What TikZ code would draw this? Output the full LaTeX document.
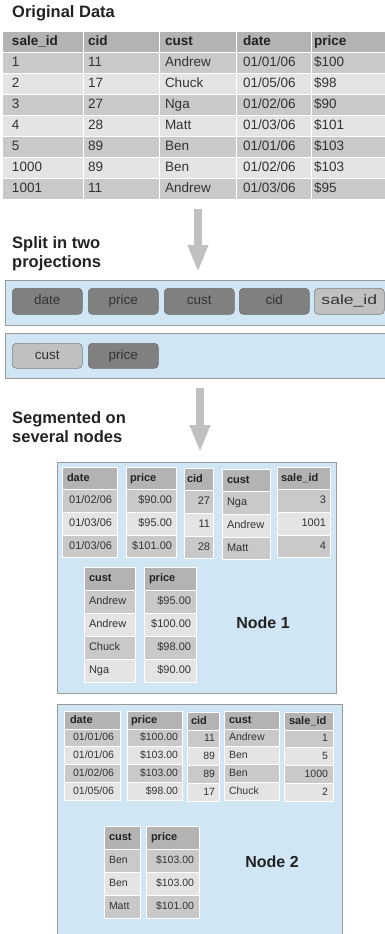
\documentclass[tikz,border=0pt]{standalone}
\usepackage{fontspec}
\setmainfont{Liberation Sans}
\usepackage{graphicx}
\usetikzlibrary{arrows.meta}

\definecolor{headgray}{HTML}{B3B3B3}
\definecolor{row1}{HTML}{C9C9C9}
\definecolor{row0}{HTML}{E4E4E4}
\definecolor{bandblue}{HTML}{D0E6F4}
\definecolor{bandline}{HTML}{999999}
\definecolor{pilldark}{HTML}{808080}
\definecolor{pilllight}{HTML}{C0C0C0}
\definecolor{arrowgray}{HTML}{C0C0C0}
\definecolor{textdark}{HTML}{222222}
\definecolor{textgray}{HTML}{333333}

\begin{document}
\begin{tikzpicture}[x=1pt, y=-1pt]

        % Styles
        \tikzstyle{title}=[anchor=north west, align=left, inner sep=0pt, text=textdark, font=\bfseries\fontsize{16.5}{19}\selectfont]
        \tikzstyle{cell}=[anchor=north west, draw=white, line width=1pt, outer sep=0pt, inner ysep=0pt, text=textgray, align=left]
        \tikzstyle{big cell}=[cell, minimum height=20.9pt, text height=9.7pt, text depth=2.8pt, font=\fontsize{13.5}{16}\selectfont]
        \tikzstyle{big head}=[big cell, fill=headgray, text=textdark, font=\bfseries\fontsize{13.5}{16}\selectfont]
        \tikzstyle{small cell}=[cell, text height=8pt, text depth=2.3pt, font=\fontsize{11}{13}\selectfont]
        \tikzstyle{small head}=[small cell, fill=headgray, text=textdark, font=\bfseries\fontsize{11}{13}\selectfont]
        \tikzstyle{band}=[fill=bandblue, draw=bandline, line width=0.8pt]
        \tikzstyle{pill}=[anchor=north west, rounded corners=4pt, minimum width=70pt, minimum height=26pt, inner sep=0pt, line width=0.6pt, text=textgray, text height=9.7pt, text depth=2.8pt, font=\fontsize{13.5}{16}\selectfont]
        \tikzstyle{dark pill}=[pill, fill=pilldark, draw=pilldark!85!black]
        \tikzstyle{light pill}=[pill, fill=pilllight, draw=gray]
        \tikzstyle{fat arrow}=[draw=arrowgray, line width=8pt, -{Triangle[width=19pt,length=27pt]}]
        \tikzstyle{node label}=[text=textdark, font=\bfseries\fontsize{16}{19}\selectfont]

        \useasboundingbox (0,0) rectangle (385,934);

        %Original data
        \node[title, anchor=base west] (orig title) at (12,18) {Original Data};
        \node[big head, inner xsep=10pt, text width=61pt] (o-sale) at (2,32) {sale\_id};
        \foreach \v [count=\r] in {1,2,3,4,5,1000,1001}
            {\pgfmathtruncatemacro\p{mod(\r,2)}
             \node[big cell, fill=row\p, inner xsep=10pt, text width=61pt] (o-sale-\r) at (2,{32+\r*20.9}) {\v};}
        \node[big head, inner xsep=5pt, text width=66pt] (o-cid) at (83,32) {cid};
        \foreach \v [count=\r] in {11,17,27,28,89,89,11}
            {\pgfmathtruncatemacro\p{mod(\r,2)}
             \node[big cell, fill=row\p, inner xsep=5pt, text width=66pt] (o-cid-\r) at (83,{32+\r*20.9}) {\v};}
        \node[big head, inner xsep=6pt, text width=65pt] (o-cust) at (159,32) {cust};
        \foreach \v [count=\r] in {Andrew,Chuck,Nga,Matt,Ben,Ben,Andrew}
            {\pgfmathtruncatemacro\p{mod(\r,2)}
             \node[big cell, fill=row\p, inner xsep=6pt, text width=65pt] (o-cust-\r) at (159,{32+\r*20.9}) {\v};}
        \node[big head, inner xsep=7pt, text width=62pt] (o-date) at (236,32) {date};
        \foreach \v [count=\r] in {01/01/06,01/05/06,01/02/06,01/03/06,01/01/06,01/02/06,01/03/06}
            {\pgfmathtruncatemacro\p{mod(\r,2)}
             \node[big cell, fill=row\p, inner xsep=7pt, text width=62pt] (o-date-\r) at (236,{32+\r*20.9}) {\v};}
        \node[big head, inner xsep=3pt, text width=68pt] (o-price) at (311,32) {price};
        \foreach \v [count=\r] in {\$100,\$98,\$90,\$101,\$103,\$103,\$95}
            {\pgfmathtruncatemacro\p{mod(\r,2)}
             \node[big cell, fill=row\p, inner xsep=3pt, text width=68pt] (o-price-\r) at (311,{32+\r*20.9}) {\v};}

        %Projections
        \coordinate (split from) at (198,209);
        \coordinate (split to) at (198,272);
        \draw[fat arrow] (split from) -- (split to);
        \node[title] (split title) at (12,236) {Split in two\\projections};
        \draw[band] (5,280) rectangle (388,325);
        \foreach \x/\name [count=\i] in {12/date,88/price,164/cust,239/cid}
            \node[dark pill] (pill-\i) at (\x,288) {\name};
        \node[light pill] (pill-5) at (314,288) {\scalebox{1.3}[1]{sale\_id}};
        \draw[band] (5,333) rectangle (388,378);
        \node[light pill, minimum height=25pt] (pill-6) at (12,343) {cust};
        \node[dark pill, minimum height=25pt] (pill-7) at (88,343) {price};

        %Segments
        \coordinate (seg from) at (200,388);
        \coordinate (seg to) at (200,452);
        \draw[fat arrow] (seg from) -- (seg to);
        \node[title] (seg title) at (12,411) {Segmented on\\several nodes};

        % Node 1
        \draw[band] (57,462) rectangle (336,693);
        \node[node label] (node one) at (263,623) {Node 1};
        \begin{scope}[every node/.append style={minimum height=22.7pt}]
            \node[small head, inner xsep=5pt, text width=45pt] (a-date) at (62,467) {date};
            \foreach \v [count=\r] in {01/02/06,01/03/06,01/03/06}
                {\pgfmathtruncatemacro\p{mod(\r,2)}
                 \node[small cell, fill=row\p, align=right, inner xsep=5pt, text width=45pt] (a-date-\r) at (62,{467+\r*22.7}) {\v};}
            \node[small head, inner xsep=4pt, text width=42pt] (a-price) at (126,467) {price};
            \foreach \v [count=\r] in {\$90.00,\$95.00,\$101.00}
                {\pgfmathtruncatemacro\p{mod(\r,2)}
                 \node[small cell, fill=row\p, align=right, inner xsep=4pt, text width=42pt] (a-price-\r) at (126,{467+\r*22.7}) {\v};}
            \node[small head, inner xsep=3pt, text width=23pt] (a-cid) at (184,468) {cid};
            \foreach \v [count=\r] in {27,11,28}
                {\pgfmathtruncatemacro\p{mod(\r,2)}
                 \node[small cell, fill=row\p, align=right, inner xsep=3pt, text width=23pt] (a-cid-\r) at (184,{468+\r*22.7}) {\v};}
            \node[small head, inner xsep=5pt, text width=38pt] (a-cust) at (222,469) {cust};
            \foreach \v [count=\r] in {Nga,Andrew,Matt}
                {\pgfmathtruncatemacro\p{mod(\r,2)}
                 \node[small cell, fill=row\p, inner xsep=5pt, text width=38pt] (a-cust-\r) at (222,{469+\r*22.7}) {\v};}
            \node[small head, inner xsep=4pt, text width=45pt] (a-sale) at (277,467) {sale\_id};
            \foreach \v [count=\r] in {3,1001,4}
                {\pgfmathtruncatemacro\p{mod(\r,2)}
                 \node[small cell, fill=row\p, align=right, inner xsep=4pt, text width=45pt] (a-sale-\r) at (277,{467+\r*22.7}) {\v};}
        \end{scope}
        \begin{scope}[every node/.append style={minimum height=23pt}]
            \node[small head, inner xsep=5pt, text width=41pt] (b-cust) at (84,567.5) {cust};
            \foreach \v [count=\r] in {Andrew,Andrew,Chuck,Nga}
                {\pgfmathtruncatemacro\p{mod(\r,2)}
                 \node[small cell, fill=row\p, inner xsep=5pt, text width=41pt] (b-cust-\r) at (84,{567.5+\r*23}) {\v};}
            \node[small head, inner xsep=5pt, text width=42pt] (b-price) at (144,567) {price};
            \foreach \v [count=\r] in {\$95.00,\$100.00,\$98.00,\$90.00}
                {\pgfmathtruncatemacro\p{mod(\r,2)}
                 \node[small cell, fill=row\p, align=right, inner xsep=5pt, text width=42pt] (b-price-\r) at (144,{567+\r*23}) {\v};}
        \end{scope}

        % Node 2
        \draw[band] (57,704) rectangle (342,937);
        \node[node label] (node two) at (272,862) {Node 2};
        \tikzstyle{tiny cell}=[small cell, font=\fontsize{10.5}{12}\selectfont]
        \begin{scope}[every node/.append style={minimum height=17.7pt}]
            \node[small head, inner xsep=6pt, text width=44pt] (c-date) at (64,711.5) {date};
            \foreach \v [count=\r] in {01/01/06,01/01/06,01/02/06,01/05/06}
                {\pgfmathtruncatemacro\p{mod(\r,2)}
                 \node[tiny cell, fill=row\p, align=right, inner xsep=6pt, text width=44pt] (c-date-\r) at (64,{711.5+\r*17.7}) {\v};}
            \node[small head, inner xsep=4pt, text width=47pt] (c-price) at (127,711.5) {price};
            \foreach \v [count=\r] in {\$100.00,\$103.00,\$103.00,\$98.00}
                {\pgfmathtruncatemacro\p{mod(\r,2)}
                 \node[tiny cell, fill=row\p, align=right, inner xsep=4pt, text width=47pt] (c-price-\r) at (127,{711.5+\r*17.7}) {\v};}
            \node[small head, inner xsep=4pt, text width=24pt] (c-cid) at (187,712.5) {cid};
            \foreach \v [count=\r] in {11,89,89,17}
                {\pgfmathtruncatemacro\p{mod(\r,2)}
                 \node[tiny cell, fill=row\p, align=right, inner xsep=4pt, text width=24pt] (c-cid-\r) at (187,{712.5+\r*17.7}) {\v};}
            \node[small head, inner xsep=5pt, text width=45pt] (c-cust) at (224,711.5) {cust};
            \foreach \v [count=\r] in {Andrew,Ben,Ben,Chuck}
                {\pgfmathtruncatemacro\p{mod(\r,2)}
                 \node[tiny cell, fill=row\p, inner xsep=5pt, text width=45pt] (c-cust-\r) at (224,{711.5+\r*17.7}) {\v};}
            \node[small head, inner xsep=5pt, text width=39pt] (c-sale) at (284,712.5) {sale\_id};
            \foreach \v [count=\r] in {1,5,1000,2}
                {\pgfmathtruncatemacro\p{mod(\r,2)}
                 \node[tiny cell, fill=row\p, align=right, inner xsep=5pt, text width=39pt] (c-sale-\r) at (284,{712.5+\r*17.7}) {\v};}
        \end{scope}
        \begin{scope}[every node/.append style={minimum height=23pt}]
            \node[small head, inner xsep=5pt, text width=26pt] (d-cust) at (104,826) {cust};
            \foreach \v [count=\r] in {Ben,Ben,Matt}
                {\pgfmathtruncatemacro\p{mod(\r,2)}
                 \node[tiny cell, fill=row\p, inner xsep=5pt, text width=26pt] (d-cust-\r) at (104,{826+\r*23}) {\v};}
            \node[small head, inner xsep=5pt, text width=43pt] (d-price) at (146,826) {price};
            \foreach \v [count=\r] in {\$103.00,\$103.00,\$101.00}
                {\pgfmathtruncatemacro\p{mod(\r,2)}
                 \node[tiny cell, fill=row\p, align=right, inner xsep=5pt, text width=43pt] (d-price-\r) at (146,{826+\r*23}) {\v};}
        \end{scope}
\end{tikzpicture}
\end{document}
